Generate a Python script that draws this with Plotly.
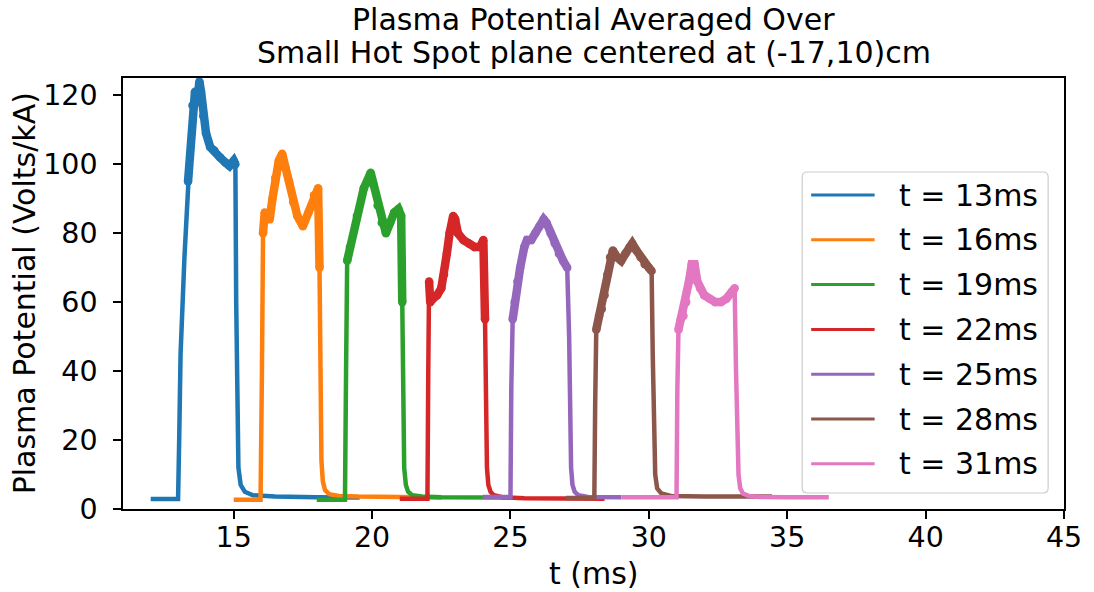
import plotly.graph_objects as go

# Series labels and colours
names = ["t = 13ms", "t = 16ms", "t = 19ms", "t = 22ms", "t = 25ms", "t = 28ms", "t = 31ms"]
colors = ["#1f77b4", "#ff7f0e", "#2ca02c", "#d62728", "#9467bd", "#8c564b", "#e377c2"]

# Time (ms) and averaged plasma potential (Volts/kA) for each shot window
t13 = [12.0, 12.99, 13.03, 13.08, 13.22, 13.35, 13.51, 13.6, 13.68, 13.76, 13.82, 13.9, 14.0, 14.15,
       14.3, 14.5, 14.7, 14.85, 15.0, 15.06, 15.09, 15.12, 15.17, 15.25, 15.4, 15.7, 16.5, 18.0, 19.55]
v13 = [2.9, 2.9, 20, 45, 73, 95, 117, 121, 118, 124, 121, 114, 109, 105,
       104, 102, 100.5, 99.5, 101, 100, 60, 25, 12, 7, 5, 4, 3.6, 3.4, 3.3]

t16 = [15.0, 15.97, 16.02, 16.06, 16.12, 16.2, 16.3, 16.4, 16.5, 16.63, 16.75, 16.87, 17.0, 17.15,
       17.3, 17.5, 17.7, 17.9, 18.05, 18.1, 18.13, 18.17, 18.22, 18.3, 18.45, 18.8, 19.5, 21.0, 22.5]
v16 = [2.7, 2.7, 40, 80, 86, 85, 84, 90, 96, 101, 103, 99, 95, 89,
       85, 82, 86, 91, 93, 70, 30, 14, 8, 5.5, 4.3, 3.8, 3.6, 3.4, 3.3]

t19 = [18.0, 19.02, 19.06, 19.1, 19.2, 19.45, 19.7, 19.95, 20.05, 20.2, 20.35, 20.5, 20.65, 20.8,
       20.95, 21.05, 21.09, 21.12, 21.16, 21.22, 21.3, 21.45, 21.8, 22.5, 24.8]
v19 = [2.7, 2.7, 40, 72, 76, 85, 93, 97.5, 94, 88, 83, 80, 83, 86,
       87, 85, 60, 25, 12, 7, 5, 4, 3.6, 3.4, 3.3]

t22 = [21.0, 22.0, 22.03, 22.06, 22.1, 22.2, 22.35, 22.5, 22.6, 22.7, 22.8, 22.93, 23.0, 23.1, 23.3,
       23.5, 23.7, 23.9, 24.02, 24.08, 24.11, 24.15, 24.2, 24.28, 24.4, 24.7, 25.5, 27.0, 28.4]
v22 = [3.0, 3.0, 40, 66, 60, 61, 62, 64, 68, 74, 80, 85, 84, 80, 78,
       77, 76, 76, 78, 55, 25, 12, 7, 5, 4, 3.4, 3.1, 3.0, 3.0]

t25 = [24.0, 25.0, 25.03, 25.08, 25.15, 25.25, 25.35, 25.5, 25.6, 25.75, 25.9, 26.05, 26.2, 26.3,
       26.45, 26.6, 26.75, 26.9, 27.05, 27.12, 27.15, 27.19, 27.24, 27.32, 27.45, 27.8, 29.0]
v25 = [3.5, 3.5, 35, 55, 60, 66, 70, 76, 78, 78, 80, 82, 84, 83,
       80, 77, 74, 72, 70, 50, 25, 12, 7, 5, 4, 3.5, 3.4]

t28 = [27.0, 28.03, 28.06, 28.1, 28.2, 28.3, 28.4, 28.5, 28.6, 28.7, 28.85, 29.0, 29.15, 29.3,
       29.4, 29.55, 29.7, 29.85, 30.0, 30.1, 30.14, 30.18, 30.23, 30.3, 30.45, 30.8, 32.0, 34.45]
v28 = [3.2, 3.2, 30, 52, 56, 58, 62, 68, 73, 75, 73, 72, 74, 76,
       77, 75, 73, 71, 70, 69, 45, 20, 10, 6, 4.5, 3.8, 3.6, 3.6]

t31 = [29.0, 31.0, 31.03, 31.07, 31.15, 31.25, 31.35, 31.45, 31.55, 31.65, 31.75, 31.85, 32.0, 32.2,
       32.4, 32.6, 32.8, 33.0, 33.1, 33.15, 33.19, 33.24, 33.3, 33.4, 33.6, 34.0, 35.0, 36.5]
v31 = [3.4, 3.4, 35, 52, 55, 56, 60, 66, 71, 71, 66, 64, 62, 61,
       60, 60, 61, 63, 64, 40, 20, 10, 6, 4.5, 3.8, 3.5, 3.4, 3.4]

times = [t13, t16, t19, t22, t25, t28, t31]
values = [v13, v16, v19, v22, v25, v28, v31]

x_ticks = [15, 20, 25, 30, 35, 40, 45]
y_ticks = [0, 20, 40, 60, 80, 100, 120]

FONT = "DejaVu Sans"
W, H = 1094, 592
L, R, T, B = 123, 22, 78, 83
PX0, PX1 = L, W - R
PY0, PY1 = T, H - B


def px(x):
    return (x - PX0) / (PX1 - PX0)


def py(y):
    return (PY1 - y) / (PY1 - PY0)


fig = go.Figure()
for t, v, c, n in zip(times, values, colors, names):
    # full trace
    fig.add_trace(go.Scatter(x=t, y=v, mode="lines", name=n,
                             line=dict(color=c, width=4.5), showlegend=False))
    # the fluctuating pulse top is drawn heavier, with rounded joints
    peak = max(v)
    idx = [i for i, val in enumerate(v) if val >= 0.6 * peak]
    i0, i1 = idx[0], idx[-1]
    fig.add_trace(go.Scatter(x=t[i0:i1 + 1], y=v[i0:i1 + 1], mode="lines+markers", name=n,
                             line=dict(color=c, width=8.5),
                             marker=dict(color=c, size=8.5, line=dict(width=0)),
                             showlegend=False, hoverinfo="skip"))

axis_common = dict(showline=True, linecolor="black", linewidth=1.5, mirror=True,
                   ticks="outside", ticklen=8, tickwidth=1.5, tickcolor="black",
                   showgrid=False, zeroline=False,
                   tickfont=dict(family=FONT, size=28.5, color="black"))

fig.update_xaxes(range=[11, 45], tickvals=x_ticks, ticklabelstandoff=-6, **axis_common)
fig.update_yaxes(range=[0, 125], tickvals=y_ticks, ticklabelstandoff=10, **axis_common)

shapes = []
annotations = []

# Legend frame (rounded corners, semi-transparent white)
x0, x1 = px(808), px(1056)
y0, y1 = py(493), py(172)
rx, ry = 5 / (PX1 - PX0), 5 / (PY1 - PY0)
path = (f"M{x0+rx},{y0} L{x1-rx},{y0} Q{x1},{y0} {x1},{y0+ry} L{x1},{y1-ry} Q{x1},{y1} {x1-rx},{y1} "
        f"L{x0+rx},{y1} Q{x0},{y1} {x0},{y1-ry} L{x0},{y0+ry} Q{x0},{y0} {x0+rx},{y0} Z")
shapes.append(dict(type="path", path=path, xref="paper", yref="paper", layer="above",
                   fillcolor="rgba(255,255,255,0.8)", line=dict(color="#cccccc", width=1.2)))

row0, row_step = 195, 44.8
for i, (n, c) in enumerate(zip(names, colors)):
    yc = row0 + i * row_step
    shapes.append(dict(type="line", xref="paper", yref="paper", layer="above",
                       x0=px(817), x1=px(881), y0=py(yc), y1=py(yc),
                       line=dict(color=c, width=3)))
    annotations.append(dict(text=n, xref="paper", yref="paper", x=px(904), y=py(yc),
                            xanchor="left", yanchor="middle", showarrow=False,
                            font=dict(family=FONT, size=30, color="black")))

# Title lines
cx = px((PX0 + PX1) / 2)
annotations.append(dict(text="Plasma Potential Averaged Over", xref="paper", yref="paper",
                        x=cx, y=py(19), xanchor="center", yanchor="middle", showarrow=False,
                        font=dict(family=FONT, size=30, color="black")))
annotations.append(dict(text="Small Hot Spot plane centered at (-17,10)cm", xref="paper", yref="paper",
                        x=cx, y=py(53), xanchor="center", yanchor="middle", showarrow=False,
                        font=dict(family=FONT, size=30, color="black")))

# Axis titles
annotations.append(dict(text="t (ms)", xref="paper", yref="paper", x=cx, y=py(573),
                        xanchor="center", yanchor="middle", showarrow=False, borderpad=0,
                        font=dict(family=FONT, size=30, color="black")))
annotations.append(dict(text="Plasma Potential (Volts/kA)", xref="paper", yref="paper",
                        x=px(24), y=py((PY0 + PY1) / 2), textangle=-90,
                        xanchor="center", yanchor="middle", showarrow=False,
                        font=dict(family=FONT, size=30, color="black")))

fig.update_layout(width=W, height=H, margin=dict(l=L, r=R, t=T, b=B, pad=0),
                  paper_bgcolor="white", plot_bgcolor="white",
                  shapes=shapes, annotations=annotations, showlegend=False)

fig.write_html("out.html")
